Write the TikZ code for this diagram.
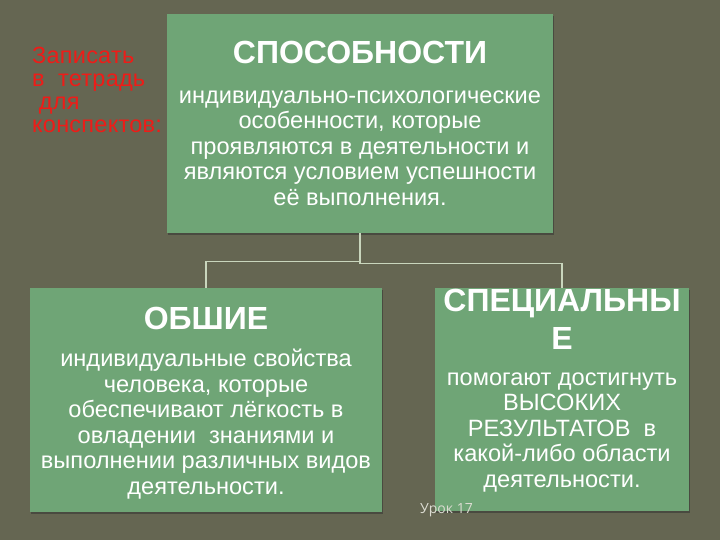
\documentclass[tikz,border=0pt]{standalone}
\usepackage{fontspec}
\setmainfont{Liberation Sans}
\newfontfamily\notefont[LetterSpace=1]{Liberation Sans}
\newfontfamily\lessonfont{Open Sans}
\usetikzlibrary{positioning,shadows}

\definecolor{bgolive}{HTML}{656652}
\definecolor{boxgreen}{HTML}{6FA576}
\definecolor{linkgray}{HTML}{C9D6BD}
\definecolor{notered}{HTML}{EE1C18}
\definecolor{lessongray}{HTML}{DCDCD2}

\begin{document}
\begin{tikzpicture}[x=1pt, y=-1pt,
  box/.style={fill=boxgreen, inner sep=0pt,
    drop shadow={shadow xshift=1pt, shadow yshift=-2pt, opacity=0.55, fill=black!80}},
  head/.style={text=white, align=center, inner sep=0pt,
    font=\fontsize{32}{38}\selectfont\bfseries},
  body/.style={text=white, align=center, inner sep=0pt,
    font=\fontsize{23.6}{25.5}\selectfont},
  link/.style={draw=linkgray, line width=1.5pt}]

  % background and page size
  \fill[bgolive] (0,0) rectangle (720,540);
  \useasboundingbox (0,0) rectangle (720,540);

  % boxes
  \node[box, anchor=north west, minimum width=386, minimum height=219] (abilities) at (167,14) {};
  \node[box, anchor=north west, minimum width=352, minimum height=224] (general) at (30,288) {};
  \node[box, anchor=north west, minimum width=254, minimum height=223] (special) at (435,288) {};

  % connectors
  \draw[link] (abilities.south) -- ++(0,28) -| (general.north);
  \draw[link] (abilities.south) -- ++(0,30) -| (special.north);

  % top box text
  \node[head] (abilitiesHead) at (360,52) {СПОСОБНОСТИ};
  \node[body] (abilitiesBody) at (360,148) {индивидуально-психологические\\
    особенности, которые\\ проявляются в деятельности и\\
    являются условием успешности\\ её выполнения.};

  % left box text
  \node[head] (generalHead) at (206,318) {ОБШИЕ};
  \node[body] (generalBody) at (206,424) {индивидуальные свойства\\
    человека, которые\\ обеспечивают лёгкость в\\
    овладении \ знаниями и\\ выполнении различных видов\\ деятельности.};

  % right box text
  \node[head] (specialHead) at (562,319) {СПЕЦИАЛЬНЫ\\Е};
  \node[body] (specialBody) at (562,432) {помогают достигнуть\\
    ВЫСОКИХ\\ РЕЗУЛЬТАТОВ \ в\\ какой-либо области\\ деятельности.};

  % note on the left
  \node[text=notered, align=left, anchor=north west, inner sep=0pt,
    font=\notefont\fontsize{23.5}{23}\selectfont] (note) at (32,47)
    {Записать\\в \ тетрадь\\ \ для\\конспектов:};

  % lesson number
  \node[text=lessongray, inner sep=0pt, anchor=west,
    font=\lessonfont\fontsize{14}{16}\selectfont] (lesson) at (420,510) {Урок 17};
\end{tikzpicture}
\end{document}
